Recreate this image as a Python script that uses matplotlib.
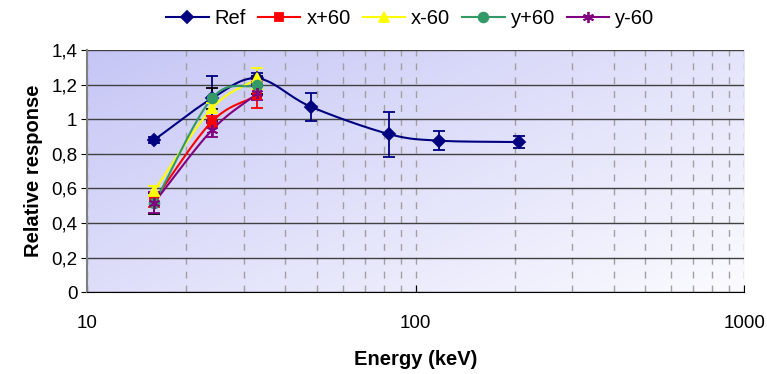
import numpy as np
import matplotlib.pyplot as plt
from matplotlib.colors import LinearSegmentedColormap
from matplotlib.ticker import FuncFormatter, NullFormatter

plt.rcParams['font.family'] = ['Liberation Sans', 'DejaVu Sans']

# energies (keV) and relative responses
e_ref = [16, 24, 33, 48, 83, 118, 206]
r_ref = [0.88, 1.12, 1.236, 1.072, 0.914, 0.876, 0.868]
err_ref = [0.02, 0.13, 0.03, 0.08, 0.13, 0.055, 0.035]

e_pos = [16, 24, 33]
r_xp = [0.533, 0.986, 1.14]
err_xp = [0.04, 0.03, 0.077]
r_xm = [0.587, 1.063, 1.236]
err_xm = [0.03, 0.03, 0.06]
r_yp = [0.514, 1.12, 1.197]
err_yp = [0.06, 0.06, 0.05]
r_ym = [0.518, 0.937, 1.15]
err_ym = [0.06, 0.04, 0.04]


def smooth(x, y, n=30):
    # Catmull-Rom curve through the points, in log-x space
    lx = np.log10(np.asarray(x, float))
    y = np.asarray(y, float)
    px = np.concatenate([[2 * lx[0] - lx[1]], lx, [2 * lx[-1] - lx[-2]]])
    py = np.concatenate([[2 * y[0] - y[1]], y, [2 * y[-1] - y[-2]]])
    xs, ys = [], []
    t = np.linspace(0, 1, n)
    for i in range(1, len(px) - 2):
        for p, out in ((px, xs), (py, ys)):
            p0, p1, p2, p3 = p[i - 1:i + 3]
            out.extend(0.5 * (2 * p1 + (-p0 + p2) * t
                              + (2 * p0 - 5 * p1 + 4 * p2 - p3) * t ** 2
                              + (-p0 + 3 * p1 - 3 * p2 + p3) * t ** 3))
    return 10 ** np.array(xs), np.array(ys)


fig = plt.figure(figsize=(7.67, 3.74), dpi=100)
ax = fig.add_axes([0.1134, 0.2184, 0.857, 0.648])

# diagonal lavender-to-white background, darkest in the top left corner
cmap = LinearSegmentedColormap.from_list('bg', ['#c6c6f6', '#fbfbff'])
gx, gy = np.meshgrid(np.linspace(0, 1, 200), np.linspace(0, 1, 200))
ax.imshow(0.55 * gx + 0.45 * gy, cmap=cmap, extent=[0, 1, 0, 1],
          transform=ax.transAxes, aspect='auto', zorder=0, origin='upper')

series = [
    ('Ref', e_ref, r_ref, err_ref, '#000080', 'D', '#000080', 6),
    ('x+60', e_pos, r_xp, err_xp, '#ff0000', 's', '#ff0000', 6),
    ('x-60', e_pos, r_xm, err_xm, '#ffff00', '^', '#ffff00', 7),
    ('y+60', e_pos, r_yp, err_yp, '#339966', 'o', '#000000', 7),
    ('y-60', e_pos, r_ym, err_ym, '#800080', (6, 2, 0), '#800080', 8),
]

for name, x, y, err, col, mk, ecol, ms in series:
    sx, sy = smooth(x, y)
    ax.plot(sx, sy, color=col, lw=1.5, zorder=3)
    ax.errorbar(x, y, yerr=err, fmt='none', ecolor=ecol, elinewidth=1.3,
                capsize=4, capthick=1.3, zorder=4)
    ax.plot(x, y, linestyle='none', marker=mk, color=col, mec=col,
            ms=ms, mew=1.3, zorder=5)
    ax.plot([], [], color=col, lw=1.5, marker=mk, ms=ms, mew=1.3, label=name)

ax.set_xscale('log')
ax.set_xlim(10, 1000)
ax.set_ylim(0, 1.4)
ax.set_yticks(np.arange(0, 1.41, 0.2))
ax.yaxis.set_major_formatter(FuncFormatter(
    lambda v, p: '0' if abs(v) < 1e-9 else ('%g' % round(v, 1)).replace('.', ',')))
ax.xaxis.set_major_formatter(FuncFormatter(lambda v, p: '%d' % v))
ax.xaxis.set_minor_formatter(NullFormatter())

ax.grid(True, axis='y', which='major', color='#404040', lw=1, zorder=1)
ax.grid(True, axis='x', which='both', color='#a0a0a0', lw=1,
        linestyle=(0, (5, 5)), zorder=1)
ax.tick_params(axis='x', which='minor', length=0)
ax.tick_params(axis='both', which='major', length=5, labelsize=13.5)
ax.tick_params(axis='x', which='major', direction='in', pad=16)
ax.tick_params(axis='y', which='major', direction='out', length=4, pad=3)

for s in ['top', 'right']:
    ax.spines[s].set_visible(False)
ax.spines['left'].set_color('#808080')
ax.spines['left'].set_linewidth(1.5)
ax.spines['bottom'].set_color('#000000')

ax.set_xlabel('Energy (keV)', fontsize=14.5, fontweight='bold', labelpad=13)
ax.set_ylabel('Relative response', fontsize=14.5, fontweight='bold', labelpad=6)

fig.legend(loc='upper center', bbox_to_anchor=(0.535, 1.025), ncol=5,
           frameon=False, fontsize=14.5, handlelength=2.1, columnspacing=0.6,
           handletextpad=0.3)

fig.savefig('out.png', dpi=100)
